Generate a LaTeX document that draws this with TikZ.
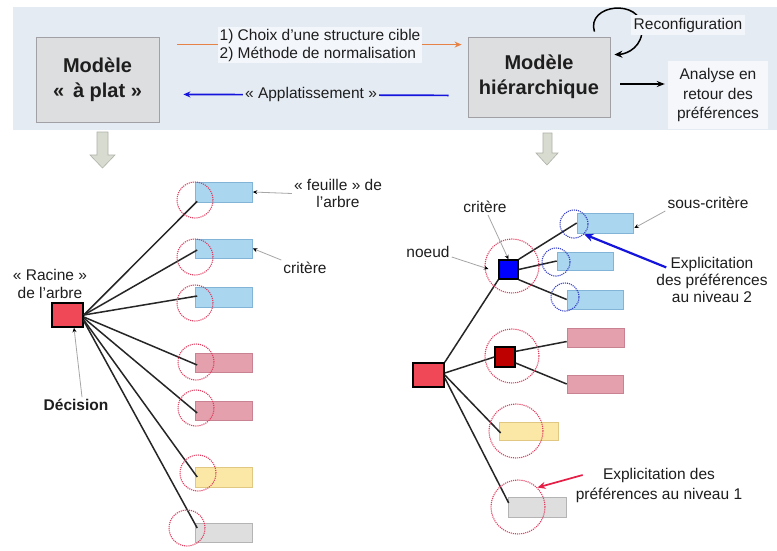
\documentclass[tikz,border=0pt]{standalone}
\usepackage{fontspec}
\setmainfont{Liberation Sans}
\usetikzlibrary{calc,arrows.meta}

\definecolor{band}{RGB}{229,235,243}
\definecolor{boxfill}{RGB}{221,222,224}
\definecolor{boxline}{RGB}{160,160,165}
\definecolor{leafblue}{RGB}{170,214,240}
\definecolor{leafblueline}{RGB}{130,180,215}
\definecolor{leafpink}{RGB}{228,160,172}
\definecolor{leafpinkline}{RGB}{200,130,145}
\definecolor{leafyellow}{RGB}{252,232,166}
\definecolor{leafyellowline}{RGB}{225,200,130}
\definecolor{leafgray}{RGB}{222,222,222}
\definecolor{leafgrayline}{RGB}{180,180,180}
\definecolor{rootred}{RGB}{240,72,86}
\definecolor{darkred}{RGB}{190,0,0}
\definecolor{dotred}{RGB}{225,60,95}
\definecolor{dotblue}{RGB}{50,60,200}
\definecolor{orangearrow}{RGB}{230,130,70}
\definecolor{bluearrow}{RGB}{20,20,220}
\definecolor{redarrow}{RGB}{230,30,70}
\definecolor{blockfill}{RGB}{216,219,208}
\definecolor{blockline}{RGB}{175,178,168}
\definecolor{txt}{RGB}{30,30,30}

\begin{document}
\begin{tikzpicture}[x=1pt,y=-1pt,
  every node/.style={font=\fontsize{15.5}{18}\selectfont, text=txt},
  model/.style={draw=boxline, fill=boxfill, line width=0.8pt, font=\fontsize{20}{25}\selectfont\bfseries, align=center, inner sep=0pt},
  leaf/.style={draw=#1line, fill=#1, line width=0.6pt, minimum width=57pt, minimum height=19pt, inner sep=0pt},
  rootbox/.style={draw=black, line width=1.6pt, fill=rootred, minimum width=31pt, minimum height=24pt, inner sep=0pt},
  redcirc/.style={circle, draw=dotred, densely dotted, line width=1.1pt, minimum size=#1, inner sep=0pt},
  bluecirc/.style={circle, draw=dotblue, densely dotted, line width=1.1pt, minimum size=28pt, inner sep=0pt},
  edge/.style={draw=black!85, line width=1.5pt},
  ann/.style={draw=gray!70, line width=0.8pt, -{Stealth[length=4.5pt,width=4pt,color=black]}},
  lbl/.style={align=center, inner sep=2pt}
]
\useasboundingbox (0,0) rectangle (777,550);
\fill[white] (0,0) rectangle (777,550);
\fill[band] (13,7) rectangle (777,130);

% top models
\node[model, minimum width=123pt, minimum height=85pt] (lbox) at (97.5,79.5) {Modèle\\«\,~à plat~»};
\node[model, minimum width=142pt, minimum height=80pt] (rbox) at (539,77) {Modèle\\hiérarchique};

\coordinate (oa) at ($(lbox.north east)+(18,8)$);
\coordinate (ob) at ($(rbox.north west)+(-6,8)$);
\draw[orangearrow, line width=1.7pt, -{Stealth[length=7pt,width=6pt]}] (oa) -- (ob);
\node[fill=white!55!band, inner sep=2pt, align=left] (choix) at (320,45) {1) Choix d’une structure cible\\2) Méthode de normalisation};

\coordinate (ba) at ($(rbox.south west)+(-19,-22)$);
\coordinate (bb) at ($(lbox.south east)+(24,-28)$);
\draw[bluearrow, line width=1.7pt, -{Stealth[length=7pt,width=6pt]}] (ba) -- (bb);
\node[fill=band, inner sep=2pt] (applat) at (311,94) {« Applatissement »};

\draw[black, line width=1.5pt, -{Stealth[length=8pt,width=7pt]}] ($(rbox.north east)+(-16,-5)$) .. controls (586,4) and (641,-2) .. (642,28) .. controls (643,46) and (628,54) .. ($(rbox.north east)+(4,18)$);
\node[fill=white!50!band, inner sep=3pt] (reconf) at (688,25) {Reconfiguration};

\node[fill=white!60!band, align=center, font=\fontsize{15.5}{19.5}\selectfont, minimum width=100pt, minimum height=68pt] (analyse) at (718,95) {Analyse en\\retour des\\préférences};
\draw[black, line width=1.6pt, -{Stealth[length=8pt,width=6pt]}] ($(rbox.east)+(10,7)$) -- ($(analyse.west)+(-3,-11)$);

% block arrows
\filldraw[fill=blockfill, draw=blockline, line width=0.6pt] (97,132) -- (108,132) -- (108,155) -- (115,155) -- (102.5,168) -- (90,155) -- (97,155) -- cycle;
\filldraw[fill=blockfill, draw=blockline, line width=0.6pt] (543,133) -- (552,133) -- (552,153) -- (558,153) -- (547,165) -- (536,153) -- (543,153) -- cycle;

% left tree
\node[rootbox] (rootL) at (67.5,315) {};
\node[leaf=leafblue, minimum height=20pt] (l1) at (224,192) {};
\node[leaf=leafblue] (l2) at (224,248.5) {};
\node[leaf=leafblue, minimum height=20pt] (l3) at (224,297) {};
\node[leaf=leafpink] (l4) at (224,362.5) {};
\node[leaf=leafpink] (l5) at (224,410.5) {};
\node[leaf=leafyellow, minimum height=20pt] (l6) at (224,477) {};
\node[leaf=leafgray] (l7) at (224,532.5) {};

\draw[edge] (rootL.east) -- ($(l1.south west)+(2,-1)$);
\draw[edge] (rootL.east) -- ($(l2.west)+(2,1.5)$);
\draw[edge] (rootL.east) -- ($(l3.west)+(2,-1)$);
\draw[edge] ($(rootL.east)+(0,2)$) -- ($(l4.west)+(2,2.5)$);
\draw[edge] ($(rootL.east)+(0,3)$) -- ($(l5.west)+(2,2.5)$);
\draw[edge] ($(rootL.east)+(0,5)$) -- ($(l6.west)+(2,0)$);
\draw[edge] ($(rootL.east)+(0,6)$) -- ($(l7.west)+(2,-4.5)$);

\node[redcirc=36pt] (cl1) at (195,200) {};
\node[redcirc=36pt] (cl2) at (195,257) {};
\node[redcirc=36pt] (cl3) at (195,303) {};
\node[redcirc=36pt] (cl4) at (196,362) {};
\node[redcirc=36pt] (cl5) at (196,408) {};
\node[redcirc=36pt] (cl6) at (198,473) {};
\node[redcirc=36pt] (cl7) at (187,528) {};

\node[lbl] (racine) at (50,284) {« Racine »\\de l’arbre};
\node[lbl, font=\fontsize{15.5}{18}\selectfont\bfseries] (dec) at (76,405) {Décision};
\draw[ann] ([xshift=6pt]dec.north) -- ([xshift=6.5pt]rootL.south);
\node[lbl, font=\fontsize{15.5}{17}\selectfont] (feuille) at (338,193.5) {« feuille » de\\l’arbre};
\draw[ann] (feuille.west) -- (l1.east);
\node[lbl] (critL) at (305,268) {critère};
\draw[ann] (critL.north west) -- (l2.east);

% right tree
\node[rootbox] (rootR) at (428.5,375) {};
\node[draw=black, line width=1.3pt, fill=blue, minimum size=19pt, inner sep=0pt] (bn) at (508.5,269.5) {};
\node[draw=black, line width=1.3pt, fill=darkred, minimum size=20pt, inner sep=0pt] (dn) at (505,357) {};

\node[leaf=leafblue, minimum width=56pt, minimum height=20pt] (sc1) at (605,223) {};
\node[leaf=leafblue, minimum width=56pt, minimum height=18pt] (sc2) at (585,261) {};
\node[leaf=leafblue, minimum width=56pt] (sc3) at (595,299.5) {};
\node[leaf=leafpink] (p1) at (595.5,337.5) {};
\node[leaf=leafpink, minimum width=56pt, minimum height=18pt] (p2) at (595,384) {};
\node[leaf=leafyellow, minimum width=59pt, minimum height=18pt] (yr) at (528.5,431) {};
\node[leaf=leafgray, minimum width=58pt, minimum height=20pt] (gr) at (537,507) {};

\draw[edge] (rootR.north east) -- (bn.south west);
\draw[edge] ($(rootR.east)+(0,-2)$) -- (dn.west);
\draw[edge] (rootR.east) -- ($(yr.west)+(2,2)$);
\draw[edge] ($(rootR.east)+(0,3)$) -- ($(gr.west)+(1,-4)$);
\draw[edge] (bn.north east) -- (sc1.west);
\draw[edge] (bn.east) -- (sc2.west);
\draw[edge] (bn.south east) -- (sc3.west);
\draw[edge] ($(dn.north east)+(0,5)$) -- ($(p1.west)+(0,4)$);
\draw[edge] ($(dn.east)+(0,6)$) -- (p2.west);

\node[redcirc=54pt] (cb) at (512,266) {};
\node[redcirc=54pt] (cd) at (512,356) {};
\node[redcirc=54pt] (cy) at (516,431) {};
\node[redcirc=54pt] (cg) at (518,507) {};
\node[bluecirc] (bc1) at (574,224) {};
\node[bluecirc] (bc2) at (556,262) {};
\node[bluecirc] (bc3) at (565,297) {};

\node[lbl] (critR) at (485,207) {critère};
\draw[ann] ([xshift=3pt]critR.south) -- (bn.north);
\node[lbl] (noeud) at (428,252) {noeud};
\draw[ann] ($(noeud.east)+(0,5)$) -- ($(cb.west)+(4,3)$);
\node[lbl] (sousc) at (708,203) {sous-critère};
\draw[ann] (sousc.south west) -- ($(sc1.east)+(1,5)$);

\node[lbl, font=\fontsize{15.5}{16.7}\selectfont] (expl2) at (712,280) {Explicitation\\des préférences\\au niveau 2};
\draw[bluearrow, line width=2.2pt, -{Stealth[length=9pt,width=8pt]}] ($(expl2.north west)+(12,12)$) -- (bc1.south east);

\node[lbl, font=\fontsize{15.5}{20}\selectfont] (expl1) at (659,485) {Explicitation des\\préférences au niveau 1};
\draw[redarrow, line width=1.7pt, -{Stealth[length=8pt,width=7pt]}] ($(expl1.west)+(9,-10)$) -- (cg.north east);
\end{tikzpicture}
\end{document}
